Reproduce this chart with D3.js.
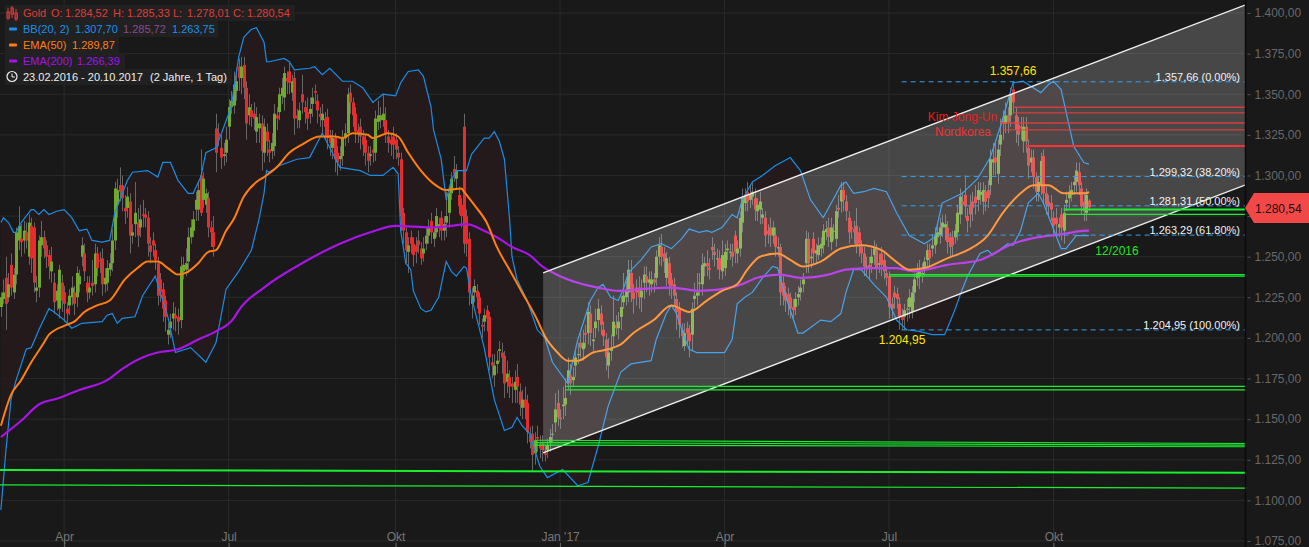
<!DOCTYPE html>
<html><head><meta charset="utf-8">
<style>html,body{margin:0;padding:0;background:#191919;overflow:hidden}svg{display:block}text{font-family:"Liberation Sans",Arial,sans-serif}</style>
<script src="https://cdn.jsdelivr.net/npm/d3@7/dist/d3.min.js"></script>
</head><body><svg id="c" width="1309" height="547"></svg>
<script>
const firstCandleDay = 3;
const opens = [1219,1224,1237,1225,1245,1228,1239,1260,1261,1260,
1265,1250,1269,1268,1229,1231,1257,1262,1257,1251,
1241,1234,1223,1218,1234,1228,1218,1220,1225,1228,
1225,1233,1250,1252,1234,1228,1234,1233,1252,1248,
1249,1233,1234,1242,1246,1260,1282,1294,1294,1280,
1280,1284,1263,1270,1271,1268,1276,1276,1274,1257,
1260,1254,1246,1236,1230,1223,1202,1206,1212,1214,
1213,1211,1241,1242,1247,1262,1266,1279,1279,1300,
1285,1282,1286,1268,1265,1329,1326,1317,1312,1314,
1330,1342,1343,1352,1367,1360,1368,1354,1337,1340,
1338,1327,1329,1332,1314,1327,1316,1315,1318,1337,
1339,1349,1348,1360,1364,1351,1360,1337,1334,1350,
1342,1339,1338,1344,1352,1346,1338,1334,1335,1336,
1325,1317,1323,1314,1310,1312,1323,1326,1351,1345,
1338,1328,1330,1324,1322,1314,1312,1316,1314,1333,
1334,1334,1334,1324,1322,1324,1322,1314,1310,1277,
1265,1253,1262,1258,1257,1260,1255,1252,1258,1263,
1272,1261,1265,1268,1274,1266,1271,1277,1289,1304,
1298,1288,1282,1330,1275,1261,1221,1228,1229,1225,
1208,1210,1217,1213,1185,1177,1184,1192,1191,1189,
1173,1176,1172,1168,1176,1167,1157,1162,1160,1140,
1141,1129,1139,1135,1135,1129,1131,1136,1141,1148,
1160,1151,1158,1159,1173,1177,1174,1183,1190,1197,
1193,1203,1203,1215,1198,1206,1211,1215,1205,1199,
1183,1192,1201,1208,1206,1213,1222,1225,1228,1240,
1228,1231,1231,1225,1234,1238,1234,1233,1236,1237,
1250,1256,1252,1237,1246,1236,1233,1224,1218,1205,
1195,1206,1203,1202,1224,1226,1234,1233,1244,1246,
1243,1256,1253,1249,1249,1241,1243,1254,1253,1253,
1263,1252,1255,1271,1283,1290,1285,1287,1286,1278,
1279,1274,1274,1266,1268,1263,1263,1255,1256,1234,
1228,1227,1225,1219,1219,1225,1228,1233,1246,1261,
1249,1261,1252,1251,1255,1257,1265,1268,1259,1266,
1261,1280,1284,1291,1284,1274,1268,1267,1269,1265,
1256,1252,1244,1245,1246,1251,1254,1245,1252,1248,
1240,1238,1221,1228,1227,1221,1214,1213,1218,1219,
1216,1228,1237,1238,1240,1243,1248,1254,1255,1257,
1262,1263,1268,1268,1268,1262,1262,1262,1265,1276,
1284,1288,1275,1282,1284,1287,1285,1288,1284,1290,
1291,1294,1308,1311,1301,1319,1335,1332,1337,1337,
1353,1337,1331,1330,1321,1330,1317,1308,1311,1299,
1290,1294,1312,1289,1284,1283,1274,1274,1268,1276,
1266,1283,1286,1288,1294,1296,1302,1292,1284,1277,1284.5];
const closes = [1225,1228,1221,1233,1231,1239,1265,1269,1259,1266,
1260,1271,1249,1234,1231,1260,1262,1255,1250,1244,
1247,1222,1229,1242,1223,1221,1215,1226,1231,1221,
1240,1238,1257,1241,1228,1231,1232,1252,1243,1247,
1233,1237,1243,1246,1260,1292,1291,1290,1286,1278,
1287,1263,1265,1277,1263,1273,1275,1274,1258,1253,
1257,1248,1226,1228,1218,1213,1205,1210,1215,1212,
1210,1244,1245,1246,1262,1268,1273,1285,1291,1277,
1298,1289,1268,1265,1256,1314,1324,1311,1313,1322,
1342,1346,1356,1358,1360,1367,1354,1332,1342,1336,
1335,1336,1332,1315,1330,1321,1314,1320,1338,1335,
1350,1354,1363,1358,1357,1358,1335,1335,1340,1345,
1339,1335,1341,1348,1351,1340,1336,1338,1330,1323,
1320,1323,1310,1308,1312,1323,1326,1350,1345,1337,
1327,1326,1324,1319,1314,1309,1313,1314,1335,1337,
1337,1338,1326,1320,1319,1319,1316,1311,1275,1266,
1254,1257,1258,1251,1253,1257,1249,1255,1263,1268,
1265,1265,1275,1270,1266,1270,1275,1289,1298,1301,
1303,1281,1275,1258,1258,1228,1226,1232,1225,1215,
1207,1214,1212,1188,1183,1183,1186,1193,1188,1172,
1178,1170,1170,1173,1170,1159,1162,1157,1142,1136,
1128,1137,1138,1132,1131,1128,1134,1139,1141,1156,
1151,1150,1159,1163,1180,1172,1176,1188,1190,1194,
1197,1202,1216,1203,1199,1210,1218,1208,1201,1188,
1191,1194,1210,1206,1210,1219,1226,1229,1242,1228,
1224,1228,1225,1229,1239,1234,1236,1236,1234,1250,
1257,1250,1247,1249,1233,1232,1226,1216,1208,1201,
1203,1203,1198,1218,1226,1228,1234,1245,1246,1244,
1242,1254,1251,1249,1242,1251,1253,1255,1253,1250,
1253,1255,1274,1286,1287,1284,1288,1290,1279,1282,
1284,1276,1263,1264,1263,1268,1256,1256,1228,1226,
1223,1222,1218,1217,1224,1227,1231,1236,1261,1246,
1250,1252,1254,1257,1258,1266,1267,1262,1268,1266,
1278,1279,1291,1285,1278,1265,1267,1265,1257,1258,
1252,1244,1244,1243,1250,1255,1243,1246,1245,1241,
1237,1219,1218,1225,1224,1213,1211,1217,1218,1225,
1228,1236,1240,1242,1240,1247,1254,1249,1257,1263,
1265,1268,1271,1270,1259,1256,1257,1266,1277,1287,
1282,1281,1272,1276,1280,1283,1291,1290,1291,1284,
1286,1310,1310,1308,1316,1325,1332,1337,1333,1350,
1345,1328,1325,1329,1330,1321,1306,1311,1299,1290,
1296,1309,1289,1282,1281,1279,1269,1270,1270,1268,
1277,1285,1290,1291,1296,1303,1294,1281,1278,1288,1280.5];
const highs = [1228,1236,1250,1240,1252,1243,1268,1281,1270,1272,
1271,1276,1274,1271,1238,1263,1272,1266,1260,1254,
1256,1240,1233,1245,1239,1232,1222,1230,1238,1232,
1244,1242,1262,1258,1238,1238,1248,1258,1256,1253,
1255,1243,1248,1252,1267,1296,1298,1305,1300,1288,
1293,1289,1270,1296,1280,1282,1285,1280,1278,1262,
1265,1258,1250,1240,1234,1226,1209,1215,1222,1219,
1218,1250,1250,1255,1268,1273,1278,1290,1296,1316,
1302,1292,1290,1272,1275,1338,1332,1325,1320,1330,
1347,1352,1364,1366,1372,1373,1373,1358,1350,1344,
1345,1342,1338,1337,1335,1332,1322,1326,1344,1342,
1354,1360,1367,1364,1370,1362,1364,1341,1345,1362,
1346,1348,1348,1354,1356,1350,1342,1344,1339,1341,
1328,1328,1326,1318,1318,1328,1332,1354,1356,1348,
1342,1332,1335,1328,1325,1318,1318,1322,1340,1346,
1342,1350,1342,1328,1326,1330,1326,1318,1314,1280,
1268,1262,1266,1262,1262,1266,1259,1262,1268,1273,
1277,1268,1280,1274,1278,1275,1290,1293,1302,1312,
1307,1293,1286,1338,1279,1265,1231,1236,1233,1228,
1212,1218,1220,1216,1190,1190,1192,1198,1197,1192,
1186,1180,1176,1180,1184,1172,1168,1170,1165,1145,
1146,1142,1146,1140,1140,1134,1138,1144,1147,1166,
1168,1156,1170,1175,1188,1184,1182,1192,1197,1203,
1205,1208,1222,1220,1206,1218,1224,1220,1210,1203,
1200,1202,1226,1214,1216,1226,1240,1235,1248,1248,
1233,1236,1238,1236,1244,1244,1241,1241,1240,1254,
1262,1264,1256,1253,1250,1240,1237,1228,1222,1209,
1209,1210,1208,1222,1234,1240,1240,1252,1250,1254,
1249,1262,1258,1255,1254,1260,1258,1260,1258,1258,
1266,1260,1278,1292,1292,1296,1294,1296,1292,1286,
1290,1280,1278,1270,1274,1272,1268,1262,1258,1238,
1232,1231,1228,1224,1228,1232,1236,1240,1266,1265,
1255,1265,1258,1262,1262,1270,1272,1274,1274,1270,
1282,1288,1296,1296,1288,1278,1272,1272,1280,1268,
1260,1256,1250,1250,1255,1260,1258,1252,1256,1252,
1244,1241,1225,1232,1231,1225,1218,1221,1224,1230,
1232,1240,1246,1248,1246,1250,1258,1258,1264,1268,
1270,1274,1276,1276,1272,1265,1266,1270,1282,1292,
1290,1300,1280,1288,1290,1294,1296,1296,1296,1294,
1297,1316,1320,1320,1322,1335,1340,1345,1342,1354,
1358,1342,1336,1336,1336,1336,1322,1316,1316,1302,
1300,1314,1316,1293,1288,1288,1278,1280,1274,1280,
1282,1290,1294,1296,1300,1308,1308,1296,1290,1292,1285.3];
const lows = [1213,1221,1205,1222,1226,1224,1233,1254,1250,1252,
1255,1245,1240,1228,1222,1225,1250,1249,1243,1236,
1234,1215,1217,1212,1216,1210,1208,1214,1220,1214,
1219,1228,1244,1235,1222,1224,1226,1228,1238,1240,
1226,1228,1229,1238,1241,1254,1274,1284,1278,1270,
1274,1252,1258,1262,1256,1262,1268,1268,1250,1246,
1250,1242,1220,1222,1210,1204,1196,1200,1205,1204,
1202,1206,1236,1238,1240,1258,1262,1272,1272,1275,
1280,1277,1262,1256,1250,1302,1318,1304,1306,1308,
1322,1338,1338,1346,1352,1350,1347,1322,1331,1330,
1328,1320,1320,1303,1308,1312,1308,1310,1312,1328,
1334,1344,1340,1350,1350,1346,1325,1329,1329,1338,
1332,1328,1332,1336,1344,1332,1330,1326,1322,1316,
1312,1310,1302,1300,1303,1306,1318,1320,1338,1330,
1320,1320,1316,1312,1306,1302,1306,1308,1309,1328,
1329,1330,1320,1314,1312,1310,1310,1306,1266,1258,
1246,1240,1252,1244,1246,1252,1245,1247,1254,1258,
1258,1256,1262,1262,1260,1260,1262,1268,1285,1296,
1292,1276,1268,1252,1250,1220,1212,1222,1218,1208,
1200,1204,1204,1180,1175,1170,1178,1185,1178,1163,
1166,1163,1160,1160,1160,1152,1150,1150,1135,1132,
1118,1122,1130,1126,1124,1124,1126,1130,1136,1142,
1146,1144,1150,1152,1168,1165,1170,1176,1184,1188,
1186,1194,1196,1195,1192,1200,1204,1202,1195,1180,
1175,1186,1194,1202,1199,1205,1218,1220,1222,1222,
1215,1220,1218,1216,1224,1228,1226,1228,1228,1232,
1245,1244,1240,1232,1226,1224,1220,1205,1200,1194,
1192,1196,1188,1192,1218,1220,1226,1226,1238,1238,
1236,1248,1244,1242,1236,1236,1238,1248,1248,1244,
1246,1246,1250,1265,1278,1278,1280,1282,1272,1272,
1270,1270,1256,1258,1256,1258,1250,1250,1220,1220,
1216,1214,1212,1212,1214,1220,1223,1228,1240,1240,
1243,1245,1246,1248,1250,1252,1260,1256,1254,1260,
1256,1274,1277,1278,1272,1258,1261,1258,1252,1250,
1246,1238,1238,1236,1240,1245,1236,1240,1238,1236,
1232,1212,1212,1218,1218,1205,1205,1205,1210,1212,
1212,1222,1232,1230,1234,1238,1243,1244,1250,1252,
1258,1258,1262,1260,1252,1250,1250,1258,1260,1270,
1276,1274,1265,1268,1272,1276,1278,1282,1276,1278,
1280,1288,1300,1300,1295,1312,1322,1326,1326,1330,
1338,1320,1318,1322,1314,1314,1298,1302,1292,1284,
1284,1288,1282,1276,1274,1272,1262,1264,1262,1260,
1258,1278,1280,1284,1288,1290,1288,1276,1272,1272,1278];

const bbUpperDays = [3,4,6,8,9,11,15,16,18,20,22,25,28,31,34,37,39,43,46,48,53,55,61,65,67,70,73,77,79,82,84,88,94,97,99,102,104,107,108,109,115,117,119,125,127,130,133,138,142,146,150,154,159,161,164,168,170,173,174,177,179,181,183,187,189,194,196,198,200,202,204,205,207,211,215,218,221,227,231,236,239,241,244,247,249,251,256,260,264,268,272,275,279,282,284,288,292,294,296,300,304,309,315,319,323,328,335,337,340,344,348,353,357,362,368,372,375,383,389,394,398,401,403,407,411,414,417,419,422,427,431,433];
const bbUpperValues = [1271,1274,1271,1265,1265,1271,1279,1279,1276,1279,1276,1278,1279,1274,1266,1267,1260,1259,1260,1277,1297,1302,1303,1299,1308,1308,1297,1289,1289,1299,1314,1317,1342,1373,1385,1390,1391,1382,1370,1370,1372,1370,1365,1366,1367,1362,1366,1358,1358,1354,1345,1350,1349,1357,1364,1365,1361,1342,1328,1310,1285,1297,1303,1303,1313,1323,1323,1327,1321,1310,1274,1250,1236,1223,1205,1200,1185,1172,1199,1223,1231,1233,1225,1223,1230,1240,1248,1256,1258,1255,1261,1267,1265,1266,1265,1268,1276,1274,1285,1296,1300,1306,1311,1303,1285,1274,1294,1296,1289,1290,1292,1290,1277,1263,1258,1262,1283,1289,1298,1311,1330,1346,1357,1358,1354,1351,1356,1358,1353,1318,1308,1307];
const bbLowerDays = [3,5,7,9,13,15,18,22,24,28,31,35,43,45,47,49,51,56,59,64,66,69,72,78,84,88,92,97,102,105,107,108,109,113,120,125,130,135,137,145,149,154,158,160,161,163,165,166,169,171,173,176,179,181,183,186,187,189,194,198,202,205,207,209,212,216,219,225,231,235,239,243,248,252,260,262,266,268,270,273,275,278,283,289,292,294,297,300,304,308,310,312,315,318,320,327,331,335,337,340,343,348,353,357,361,366,371,376,380,382,385,390,393,395,401,403,406,409,413,415,418,422,424,428,433];
const bbLowerValues = [1094,1131,1162,1174,1193,1194,1205,1218,1216,1211,1206,1209,1210,1214,1215,1209,1212,1213,1226,1238,1228,1213,1191,1194,1185,1197,1230,1241,1254,1273,1289,1303,1302,1306,1310,1311,1326,1311,1305,1303,1300,1300,1305,1301,1266,1246,1242,1229,1218,1216,1217,1225,1247,1241,1238,1244,1243,1225,1194,1162,1143,1145,1151,1146,1141,1121,1114,1119,1109,1111,1133,1158,1179,1184,1186,1199,1215,1220,1215,1201,1193,1191,1191,1191,1199,1221,1225,1228,1237,1244,1243,1231,1217,1203,1203,1211,1210,1215,1228,1242,1242,1233,1225,1211,1205,1204,1202,1202,1217,1226,1238,1252,1254,1251,1258,1257,1266,1283,1289,1283,1271,1255,1255,1263,1263];
const ema50Days = [3,7,11,15,20,22,29,32,36,41,46,52,57,61,65,69,73,76,81,85,88,92,95,99,104,107,112,117,122,129,135,138,142,148,150,156,160,164,169,174,179,185,186,190,195,199,204,209,215,218,223,227,231,237,243,248,253,261,268,275,282,288,294,298,303,310,315,320,327,335,343,351,356,362,368,377,385,393,399,406,411,417,423,432,433];
const ema50Values = [1146,1165,1174,1185,1197,1202,1208,1210,1216,1220,1223,1236,1243,1247,1247,1243,1239,1240,1246,1253,1254,1266,1273,1287,1296,1299,1305,1314,1319,1324,1324,1323,1326,1325,1323,1326,1324,1314,1303,1295,1291,1292,1290,1282,1271,1256,1242,1228,1211,1201,1191,1186,1186,1191,1193,1196,1203,1211,1220,1216,1223,1229,1233,1242,1250,1252,1248,1244,1247,1255,1257,1254,1248,1242,1243,1249,1254,1263,1277,1289,1294,1294,1289,1289,1290];
const ema200Days = [3,11,18,26,34,45,51,59,65,73,81,88,95,97,107,121,137,149,159,173,181,187,194,199,205,212,217,224,231,239,247,256,268,279,294,302,311,319,330,337,346,357,364,377,390,403,413,423,432,433];
const ema200Values = [1139,1149,1159,1163,1168,1174,1181,1188,1191,1193,1199,1204,1212,1217,1231,1245,1258,1265,1269,1268,1269,1270,1266,1262,1256,1251,1244,1238,1234,1231,1229,1230,1231,1229,1232,1237,1239,1237,1239,1242,1243,1243,1241,1245,1248,1258,1262,1264,1266,1266];

const channelDays = [217.3,494.7];
const channelUpper = [1240,1404.9];
const channelLower = [1129.2,1294.1];
const fibLevels = [1357.66,1299.32,1281.31,1263.29,1204.95];
const fibLabels = ["1.357,66 (0.00%)","1.299,32 (38.20%)","1.281,31 (50.00%)","1.263,29 (61.80%)","1.204,95 (100.00%)"];
const fibStartDay = 359;
const supportStartDays = [354,354,226,226,214,214,214,0,0,423,423];
const supportStartPrices = [1239,1238,1170.2,1168,1137,1135.5,1134,1118.7,1109.5,1279,1276];
const supportEndPrices = [1239,1238,1170.2,1168,1135,1134,1133,1117,1107.6,1279,1276];
const resistanceStartDays = [403,403,398,399,408];
const resistancePrices = [1342,1338.5,1332.3,1328,1318.1];
const priceTicks = [1075,1100,1125,1150,1175,1200,1225,1250,1275,1300,1325,1350,1375,1400];
const timeTickDays = [28,93,159,224,289,354,419];
const timeTickLabels = ["Apr","Jul","Okt","Jan '17","Apr","Jul","Okt"];
const lastPrice = 1280.54;

const W=1245, svg=d3.select("#c");
const x=d3.scaleLinear().domain([0,494.7]).range([-6.7,W]);
const y=d3.scaleLinear().domain([1075,1400]).range([541,13]);
const de=d3.formatLocale({decimal:",",thousands:".",grouping:[3],currency:["","€"]});
const fmt=de.format(",.2f");

svg.append("rect").attr("width",1309).attr("height",547).attr("fill","#191919");
svg.append("defs").append("clipPath").attr("id","plot").append("rect").attr("width",W).attr("height",547);
const g=svg.append("g").attr("clip-path","url(#plot)");

// grid
g.selectAll(".h").data(priceTicks).join("line").attr("x1",0).attr("x2",W).attr("y1",d=>y(d)).attr("y2",d=>y(d)).attr("stroke","#2a2a2a");
g.selectAll(".v").data(timeTickDays).join("line").attr("x1",d=>x(d)).attr("x2",d=>x(d)).attr("y1",0).attr("y2",547).attr("stroke","#2a2a2a");

// Bollinger fill
const lineFn=(xs,vs,curve)=>d3.line().x((d,i)=>x(xs[i])).y(d=>y(d)).curve(curve||d3.curveLinear)(vs);
const up=bbUpperDays.map((d,i)=>[x(d),y(bbUpperValues[i])]);
const lo=bbLowerDays.map((d,i)=>[x(d),y(bbLowerValues[i])]).reverse();
g.append("path").attr("d",d3.line()(up.concat(lo))+"Z").attr("fill","#261a1b").attr("fill-opacity",.95);

// candles
const candles=opens.map((o,i)=>({day:firstCandleDay+i,o,c:closes[i],h:highs[i],l:lows[i]}));
g.selectAll(".wick").data(candles).join("line").attr("x1",d=>Math.round(x(d.day))+.5).attr("x2",d=>Math.round(x(d.day))+.5)
 .attr("y1",d=>y(d.h)).attr("y2",d=>y(d.l)).attr("stroke","#666666");
g.selectAll(".body").data(candles).join("rect").attr("x",d=>Math.round(x(d.day))-1).attr("width",3)
 .attr("y",d=>y(Math.max(d.o,d.c))).attr("height",d=>Math.max(1,Math.abs(y(d.o)-y(d.c))))
 .attr("fill",d=>d.c>=d.o?"#70a92e":"#e52d2d");

// indicators
const band=(xs,vs)=>g.append("path").attr("d",lineFn(xs,vs)).attr("fill","none").attr("stroke","#1a8ce6").attr("stroke-width",1.2);
band(bbUpperDays,bbUpperValues);band(bbLowerDays,bbLowerValues);
g.append("path").attr("d",lineFn(ema200Days,ema200Values,d3.curveMonotoneX)).attr("fill","none").attr("stroke","#a914e6").attr("stroke-width",2.2);
g.append("path").attr("d",lineFn(ema50Days,ema50Values,d3.curveMonotoneX)).attr("fill","none").attr("stroke","#ff7f10").attr("stroke-width",2);

// channel
const chPoly=[[channelDays[0],channelUpper[0]],[channelDays[1],channelUpper[1]],[channelDays[1],channelLower[1]],[channelDays[0],channelLower[0]]];
g.append("path").attr("d",d3.line().x(d=>x(d[0])).y(d=>y(d[1]))(chPoly)+"Z").attr("fill","#fff").attr("fill-opacity",.2);
[channelUpper,channelLower].forEach(v=>g.append("path").attr("d",lineFn(channelDays,v)).attr("stroke","#f0f0f0").attr("stroke-width",1.4).attr("fill","none"));

// fibonacci
g.selectAll(".fib").data(fibLevels).join("line").attr("x1",x(fibStartDay)).attr("x2",W).attr("y1",d=>y(d)).attr("y2",d=>y(d))
 .attr("stroke","#3a9ee8").attr("stroke-dasharray","5,4").attr("stroke-width",1);

// levels
resistancePrices.forEach((p,i)=>g.append("line").attr("x1",x(resistanceStartDays[i])).attr("x2",W).attr("y1",y(p)).attr("y2",y(p))
 .attr("stroke",i==4?"#ff3333":"#ee3c3c").attr("stroke-width",i==4?2:1.3).attr("stroke-opacity",i==4?1:.85));
supportStartDays.forEach((d,i)=>g.append("line").attr("x1",x(d)).attr("x2",W).attr("y1",y(supportStartPrices[i])).attr("y2",y(supportEndPrices[i]))
 .attr("stroke","#18f02e").attr("stroke-width",i==7||i==9?2:1.2));

// axis
const ay=svg.append("g").attr("transform",`translate(${W+.5},0)`).call(d3.axisRight(y).tickValues(priceTicks).tickFormat(fmt).tickSize(4).tickPadding(5));
ay.select(".domain").attr("stroke","#0b0b0b").attr("stroke-width",1.5).attr("d","M0,0V547");
ay.selectAll("line").attr("stroke","#555").attr("x1",2).attr("x2",5);
ay.selectAll("text").attr("fill","#686868").attr("font-size",12).attr("font-family","Liberation Sans");
const ax=svg.append("g").attr("transform","translate(0,543)").call(d3.axisBottom(x).tickValues(timeTickDays).tickFormat((d,i)=>timeTickLabels[i]).tickSize(5));
ax.select(".domain").remove();
ax.selectAll("line").attr("stroke","#666");
ax.selectAll("text").attr("fill","#777").attr("font-size",12).attr("font-family","Liberation Sans").attr("y",-2).attr("dy",0);

// price tag
const ty=y(lastPrice)+1;
svg.append("path").attr("d",`M1245,${ty}L1254,${ty-15}H1309V${ty+15}H1254Z`).attr("fill","#f24848");
svg.append("text").attr("x",1255).attr("y",ty+5).attr("font-size",12).attr("fill","#1a0c0c").text(fmt(lastPrice));

// annotations
const T=(s,xx,yy,col,size,anchor)=>svg.append("text").attr("x",xx).attr("y",yy).attr("fill",col).attr("font-size",size||11).attr("text-anchor",anchor||"start").text(s);
fibLevels.forEach((p,i)=>T(fibLabels[i],1240,y(p)-1,"#f2f2f2",11,"end"));
T("1.357,66",1013,75,"#ffe600",12,"middle");
T("1.204,95",902,344,"#ffe600",12,"middle");
T("Kim Jong-Un",962.5,121,"#ec1c1c",12,"middle");
T("Nordkorea",963,136,"#ec3434",12,"middle");
T("12/2016",1117,255,"#1ee81e",12,"middle");

// legend
[[5,295],[21,218],[37,119],[53,125],[69,232]].forEach((r,i)=>svg.append("rect").attr("x",5).attr("y",r[0]).attr("width",r[1]-5).attr("height",16).attr("fill","#222222").attr("fill-opacity",.9));
const red="#e03a3a",blue="#1a8fef",orange="#ff7f10",purple="#a512ee";
[["Gold",23],["O:",51],["1.284,52",65],["H:",113],["1.285,33",127],["L:",173],["1.278,01",187],["C:",233],["1.280,54",247]].forEach(a=>T(a[0],a[1],17,red));
T("BB(20, 2)",23,33,blue);T("1.307,70",75,33,blue);T("1.285,72",123,33,"#8a4a92");T("1.263,75",172,33,blue);
T("EMA(50)",23,49,orange);T("1.289,87",72,49,orange);
T("EMA(200)",23,65,purple);T("1.266,39",77,65,purple);
T("23.02.2016 - 20.10.2017",23,81,"#eeeeee");T("(2 Jahre, 1 Tag)",150,81,"#eeeeee");
[[9,29,blue],[9,45,orange],[9,61,purple]].forEach(s=>svg.append("rect").attr("x",s[0]).attr("y",s[1]-1.5).attr("width",8).attr("height",3).attr("rx",1).attr("fill",s[2]));
// candle icon
[[8,10,22,[14,20]],[12,8,20,[10,16]],[16,11,23,[15,21]]].forEach(c=>{
 svg.append("line").attr("x1",c[0]).attr("x2",c[0]).attr("y1",c[1]-2).attr("y2",c[2]-2).attr("stroke",red);
 svg.append("rect").attr("x",c[0]-1).attr("y",c[3][0]-2).attr("width",2.4).attr("height",c[3][1]-c[3][0]).attr("fill","none").attr("stroke",red);
});
svg.append("circle").attr("cx",12).attr("cy",76.5).attr("r",5).attr("fill","none").attr("stroke","#eee").attr("stroke-width",1.2);
svg.append("path").attr("d","M12,73.5V77H15").attr("fill","none").attr("stroke","#eee");
</script></body></html>
